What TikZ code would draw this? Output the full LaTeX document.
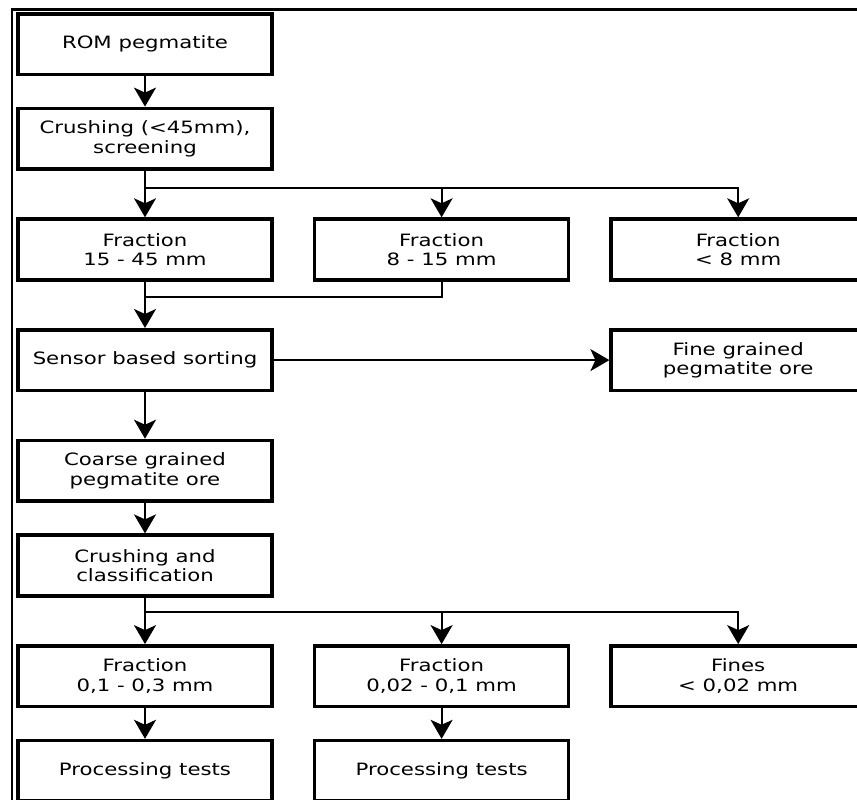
\documentclass[tikz,border=0pt]{standalone}
\usepackage{fontspec}
\setmainfont{DejaVu Sans}[FakeStretch=1.25]
\usetikzlibrary{arrows.meta,positioning}

\begin{document}
\begin{tikzpicture}[
  node distance=15.25pt and 19.5pt,
  box/.style={draw,line width=1.8pt,align=center,minimum width=127pt,
              minimum height=30.3pt,inner sep=1pt,font=\fontsize{8.5}{9.7}\selectfont},
  arrow/.style={-{Stealth[length=9.5pt,width=11pt,inset=2.5pt]},line width=1pt},
  link/.style={line width=1pt}
]
\useasboundingbox (0,0) rectangle (428.5pt,-399.5pt);
\clip (0,0) rectangle (428.5pt,-399.5pt);
\draw[line width=1.2pt] (6pt,-420pt) |- (440pt,-4.75pt);
% boxes
\node[box] (rom) at (72.5pt,-22pt) {ROM pegmatite};
\node[box,below=of rom] (crush) {Crushing (<45mm),\\screening};
\node[box,below=23.25pt of crush] (frac1) {Fraction\\15 - 45 mm};
\node[box,right=of frac1] (frac2) {Fraction\\8 - 15 mm};
\node[box,right=of frac2] (frac3) {Fraction\\< 8 mm};
\node[box,below=23.25pt of frac1] (sorting) {Sensor based sorting};
\node[box] (finegr) at (sorting -| frac3) {Fine grained\\pegmatite ore};
\node[box,below=23.25pt of sorting] (coarsegr) {Coarse grained\\pegmatite ore};
\node[box,below=of coarsegr] (classify) {Crushing and\\classification};
\node[box,below=23.25pt of classify] (fracA) {Fraction\\0,1 - 0,3 mm};
\node[box,right=of fracA] (fracB) {Fraction\\0,02 - 0,1 mm};
\node[box,right=of fracB] (fines) {Fines\\< 0,02 mm};
\node[box,below=of fracA] (testA) {Processing tests};
\node[box,below=of fracB] (testB) {Processing tests};
% connectors
\coordinate[below=8.5pt of crush] (split1);
\coordinate[below=7.5pt of frac1] (merge1);
\coordinate[below=7pt of classify] (split2);
\draw[arrow] (rom) -- (crush);
\draw[arrow] (crush) -- (frac1);
\draw[arrow] (split1 -| frac2) -- (frac2);
\draw[arrow] (split1) -| (frac3);
\draw[link] (frac2) |- (merge1);
\draw[arrow] (frac1) -- (sorting);
\draw[arrow] (sorting) -- (finegr);
\draw[arrow] (sorting) -- (coarsegr);
\draw[arrow] (coarsegr) -- (classify);
\draw[arrow] (classify) -- (fracA);
\draw[arrow] (split2 -| fracB) -- (fracB);
\draw[arrow] (split2) -| (fines);
\draw[arrow] (fracA) -- (testA);
\draw[arrow] (fracB) -- (testB);
\end{tikzpicture}
\end{document}
